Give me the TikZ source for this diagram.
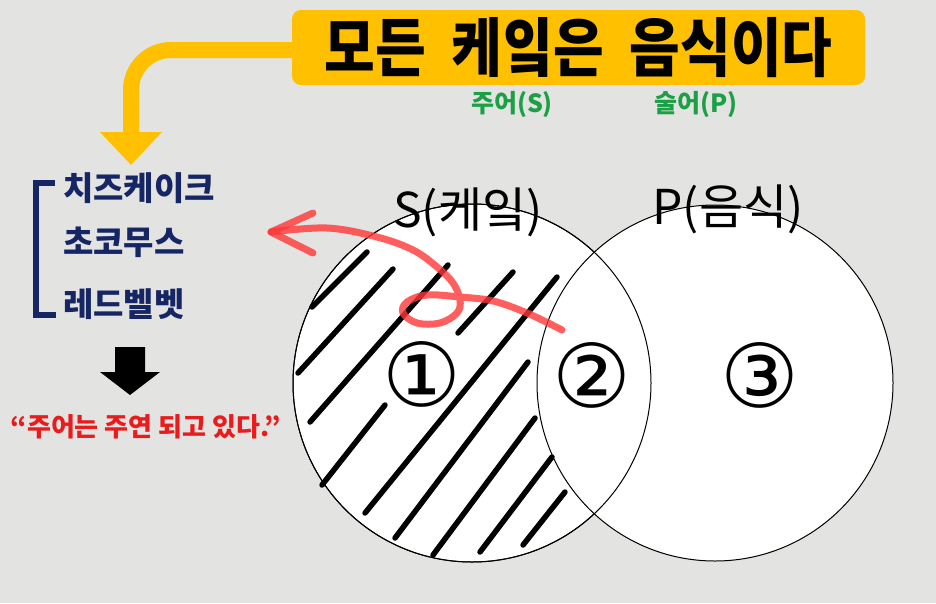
\documentclass[tikz,border=0pt]{standalone}
\usepackage{fontspec}
\usetikzlibrary{arrows.meta}
\newfontfamily\cjk{Noto Sans CJK KR}
\newfontfamily\cjktitle{Noto Sans CJK KR}[FakeStretch=0.86]
\newfontfamily\symf{DejaVu Sans}
\definecolor{bgc}{RGB}{227,227,225}
\definecolor{ybox}{RGB}{255,192,0}
\definecolor{gtxt}{RGB}{28,160,70}
\definecolor{navy}{RGB}{22,38,100}
\definecolor{rtxt}{RGB}{232,28,28}
\definecolor{rarrow}{RGB}{255,55,55}
\tikzset{
  titlebox/.style={fill=ybox, rounded corners=9pt, minimum width=573pt, minimum height=75pt, inner sep=0pt, font=\cjktitle\bfseries\fontsize{64}{68}\selectfont},
  yband/.style={draw=ybox, line width=16pt, rounded corners=40pt},
  greentxt/.style={text=gtxt, inner sep=0pt, font=\cjk\bfseries\fontsize{25}{28}\selectfont},
  listtxt/.style={text=navy, anchor=west, inner sep=0pt, font=\cjk\bfseries\fontsize{33}{36}\selectfont},
  venn/.style={circle, draw=black, line width=1pt, fill=white, inner sep=0pt},
  setlabel/.style={inner sep=0pt, font=\cjk\fontsize{48}{52}\selectfont},
  numlabel/.style={inner sep=0pt, font=\symf\fontsize{88}{92}\selectfont},
  hatch/.style={line width=5.5pt, line cap=round},
  redpen/.style={draw=rarrow, opacity=0.8, line width=7pt, line cap=round, line join=round},
}
\begin{document}
\begin{tikzpicture}[x=1pt,y=-1pt]
\fill[bgc] (0,0) rectangle (936,603);
\useasboundingbox (0,0) rectangle (936,603);

% title and yellow arrow
\node[titlebox] (title) at (578.5,47.5) {\spaceskip=26pt 모든 케잌은 음식이다};
\coordinate (ytip) at (131,165);
\draw[yband, -{Triangle[width=60pt,length=33pt]}] ([yshift=-2.5pt,xshift=2pt]title.west) -- (131,50) -- (ytip);

\node[greentxt] (subj) at (512,104) {주어(S)};
\node[greentxt] (pred) at (696,104) {술어(P)};

% list with bracket
\node[listtxt] (cheese) at (63,188) {치즈케이크};
\node[listtxt] (choco) at (63,242) {초코무스};
\node[listtxt] (redv) at (63,304) {레드벨벳};
\draw[navy, line width=6pt] (55,183) -- (36,183) -- (36,315) -- (56,315);

% black block arrow
\fill[black] (115,347) -- (145,347) -- (145,372) -- (160,372) -- (130,395) -- (100,372) -- (115,372) -- cycle;
\node[text=rtxt, inner sep=0pt, font=\cjk\bfseries\fontsize{26}{30}\selectfont] (quote) at (146,427) {“주어는 주연 되고 있다.”};

% venn circles
\node[venn, minimum size=358pt] (S) at (472,383) {};
\node[venn, minimum size=356pt] (P) at (715,383) {};
\draw[line width=1pt] (S.center) circle (179pt);

% hatching
\draw[hatch] (312,307) -- (367,252);
\draw[hatch] (298,373) -- (393,269);
\draw[hatch] (310,422) -- (448,265);
\draw[hatch] (322,485) -- (385,405);
\draw[hatch] (458,333) -- (513,272);
\draw[hatch] (365,513) -- (557,277);
\draw[hatch] (395,538) -- (528,362);
\draw[hatch] (433,555) -- (535,418);
\draw[hatch] (480,552) -- (552,457);
\draw[hatch] (523,545) -- (565,492);

\node[setlabel] (slab) at (468,212) {S(케잌)};
\node[setlabel] (plab) at (728,209) {P(음식)};

\node[numlabel] (n1) at (422,374) {①};
\node[numlabel] (n2) at (592,375) {②};
\node[numlabel] (n3) at (760,375) {③};

% red hand-drawn arrow
\coordinate (rtip) at (271,232);
\draw[redpen] plot[smooth, tension=0.6] coordinates {(562,330) (527,313) (493,301) (460,297) (427,295) (407,302) (403,313) (417,323) (440,323) (457,313) (460,300) (453,283) (437,267) (413,250) (377,237) (327,228) (rtip)};
\draw[redpen] (313,213) -- (rtip) -- (313,253);
\end{tikzpicture}
\end{document}
